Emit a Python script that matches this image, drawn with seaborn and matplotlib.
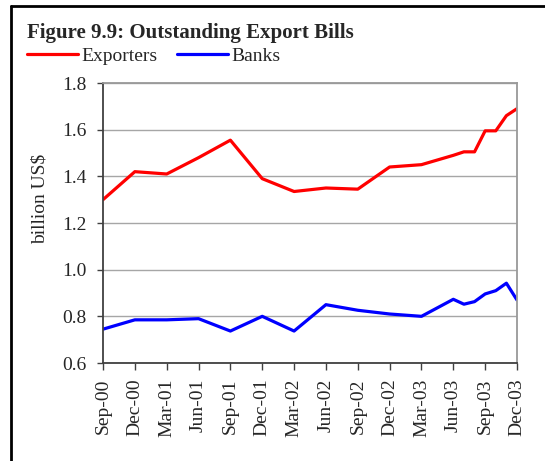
import pandas as pd
import seaborn as sns
import matplotlib.pyplot as plt
from matplotlib.lines import Line2D

# dados
periodos = ["Sep-00", "Dec-00", "Mar-01", "Jun-01", "Sep-01", "Dec-01", "Mar-02",
            "Jun-02", "Sep-02", "Dec-02", "Mar-03", "Jun-03", "Jul-03", "Aug-03",
            "Sep-03", "Oct-03", "Nov-03", "Dec-03"]
meses = [0, 3, 6, 9, 12, 15, 18, 21, 24, 27, 30, 33, 34, 35, 36, 37, 38, 39]
exportadores = [1.30, 1.42, 1.41, 1.48, 1.555, 1.39, 1.335, 1.35, 1.345, 1.44,
                1.45, 1.49, 1.505, 1.505, 1.595, 1.595, 1.66, 1.69]
bancos = [0.745, 0.785, 0.785, 0.79, 0.737, 0.80, 0.737, 0.85, 0.826, 0.81,
          0.80, 0.873, 0.852, 0.863, 0.896, 0.91, 0.942, 0.87]
ticks_x = ["Sep-00", "Dec-00", "Mar-01", "Jun-01", "Sep-01", "Dec-01", "Mar-02",
           "Jun-02", "Sep-02", "Dec-02", "Mar-03", "Jun-03", "Sep-03", "Dec-03"]

tabela = pd.DataFrame({"mes": meses, "Exporters": exportadores, "Banks": bancos})

sns.set_style("white")
plt.rcParams["font.family"] = ["Liberation Serif", "DejaVu Serif"]

fig = plt.figure(figsize=(5.45, 4.61), dpi=100)
ax = fig.add_axes([103/545, 1 - 363/461, (517-103)/545, (363-83)/461])

sns.lineplot(data=tabela, x="mes", y="Exporters", color="#ff0000", linewidth=2.3, ax=ax, label="Exporters")
sns.lineplot(data=tabela, x="mes", y="Banks", color="#0000ff", linewidth=2.3, ax=ax, label="Banks")

ax.set_xlim(0, 39)
ax.set_ylim(0.6, 1.8)
ax.set_yticks([0.6, 0.8, 1.0, 1.2, 1.4, 1.6, 1.8])
ax.set_yticklabels(["0.6", "0.8", "1.0", "1.2", "1.4", "1.6", "1.8"], fontsize=14)
ax.set_xticks(range(0, 40, 3))
ax.set_xticklabels(ticks_x, rotation=90, fontsize=14)
ax.set_xlabel("")
ax.set_ylabel("billion US$", fontsize=14, va="center")
ax.yaxis.set_label_coords(-0.152, 0.586)
ax.yaxis.grid(True, color="#a6a6a6", linewidth=1)
ax.tick_params(axis="y", direction="out", length=4, width=1, color="#404040", left=True, pad=8)
ax.tick_params(axis="x", direction="out", length=5, width=1, color="#404040", bottom=True, pad=6)

for lado in ["left", "bottom"]:
    ax.spines[lado].set_color("#404040")
    ax.spines[lado].set_linewidth(1.3)
for lado in ["top", "right"]:
    ax.spines[lado].set_color("#999999")
    ax.spines[lado].set_linewidth(1.3)

# legenda em cima
ax.legend(loc="center left", bbox_to_anchor=(27/545, 1 - 56/461), bbox_transform=fig.transFigure,
          ncol=2, frameon=False, fontsize=14, handlelength=2.6, handletextpad=0.2,
          columnspacing=1.0, borderaxespad=0, borderpad=0)

# titulo
fig.text(27/545, 1 - 38/461, "Figure 9.9: Outstanding Export Bills", fontsize=15,
         fontweight="bold", ha="left", va="baseline")

# moldura
fig.add_artist(Line2D([11/545, 1], [1 - 6/461, 1 - 6/461], color="black", linewidth=2, transform=fig.transFigure))
fig.add_artist(Line2D([11/545, 11/545], [0, 1 - 6/461], color="black", linewidth=2, transform=fig.transFigure))

fig.savefig("out.png", dpi=100)
